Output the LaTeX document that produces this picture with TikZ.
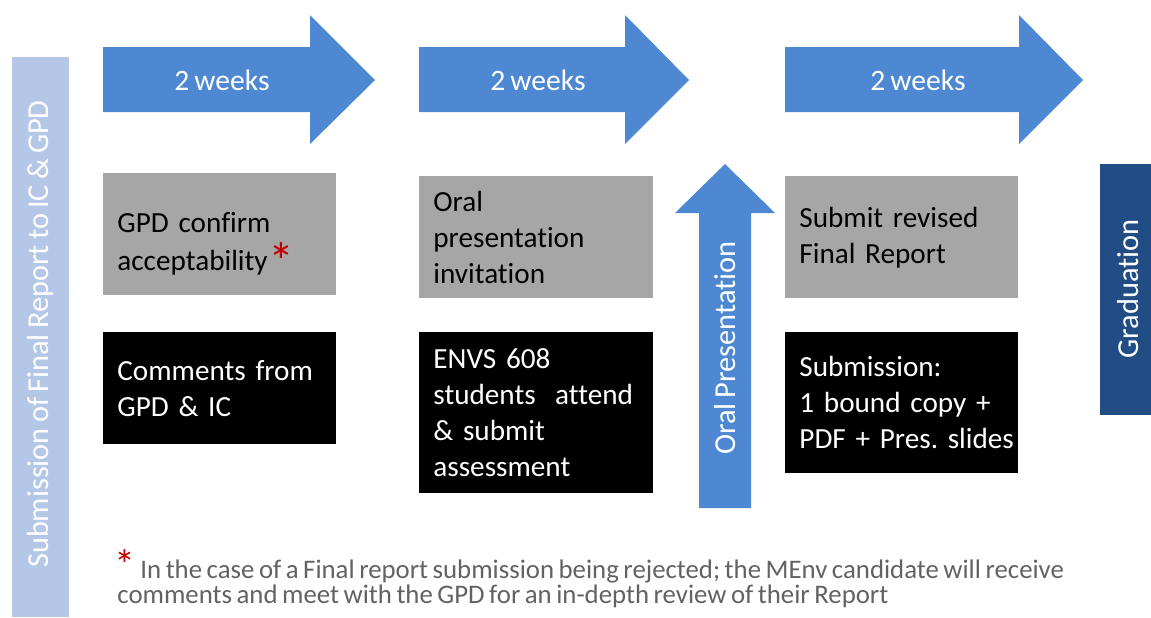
\documentclass[tikz,border=0pt]{standalone}
\usepackage{fontspec}
\setmainfont{Carlito}[Ligatures=NoCommon,WordSpace=0.75]
\usepackage{tikz}
\usetikzlibrary{calc}

\definecolor{arrowblue}{HTML}{4E88D2}
\definecolor{barblue}{HTML}{B4C7E7}
\definecolor{gradblue}{HTML}{214D84}
\definecolor{boxgrey}{HTML}{A6A6A6}
\definecolor{notegrey}{HTML}{626262}
\definecolor{starred}{HTML}{C00000}

\begin{document}
\begin{tikzpicture}[x=0.5pt,y=-0.5pt,font=\fontsize{14.6}{18}\selectfont]
    \tikzstyle{grey box}=[fill=boxgrey,anchor=north west,align=left,inner xsep=7pt,minimum height=61pt,text=black]
    \tikzstyle{black box}=[fill=black,anchor=north west,align=left,inner xsep=7pt,text=white]
    \tikzstyle{week label}=[text=white,font=\fontsize{14.8}{18}\selectfont]
    \tikzstyle{side text}=[rotate=90,text=white,font=\fontsize{15.2}{18}\selectfont]

    \useasboundingbox (0,0) rectangle (1151,617);

    % side bars
    \fill[barblue] (12,57) rectangle (69,617);
    \node[side text] (submitted) at (40,334) {Submission of Final Report to IC \& GPD};
    \fill[gradblue] (1100,164) rectangle (1151,415);
    \node[side text] (graduation) at (1128,289) {Graduation};

    % two week arrows
    \fill[arrowblue] (103,47) -- (310,47) -- (310,15) -- (375,80) -- (310,144) -- (310,112) -- (103,112) -- cycle;
    \node[week label] (weekA) at (222,80) {2 weeks};
    \fill[arrowblue] (419,47) -- (625,47) -- (625,15) -- (689,80) -- (625,144) -- (625,112) -- (419,112) -- cycle;
    \node[week label] (weekB) at (538,80) {2 weeks};
    \fill[arrowblue] (785,47) -- (1019,47) -- (1019,15) -- (1083,80) -- (1019,144) -- (1019,112) -- (785,112) -- cycle;
    \node[week label] (weekC) at (918,80) {2 weeks};

    % oral presentation arrow
    \fill[arrowblue] (699,508) -- (699,213) -- (675,213) -- (725,164) -- (775,213) -- (751,213) -- (751,508) -- cycle;
    \node[side text] (oral) at (725,348) {Oral Presentation};

    % grey boxes
    \node[grey box,text width=102.5pt] (gpd) at (103,173)
        {\rule{0pt}{19pt}GPD confirm\\[1pt]acceptability\kern0.5pt\smash{\raisebox{-4.5pt}{\color{starred}\fontsize{26}{18}\selectfont*}}};
    \node[grey box,text width=103pt] (invite) at (419,176)
        {Oral\\presentation\\invitation};
    \node[grey box,text width=102.5pt] (revise) at (785,176)
        {Submit revised\\Final Report};

    % black boxes
    \node[black box,text width=102.5pt,minimum height=56pt] (comments) at (103,332)
        {Comments from\\GPD \& IC};
    \node[black box,text width=103pt,minimum height=80.5pt] (envs) at (419,332)
        {ENVS 608\\students~ attend\\\& submit\\assessment};
    \node[black box,text width=102.5pt,minimum height=70.5pt] (final) at (785,332)
        {Submission:\\1 bound copy +\\\mbox{PDF + Pres.\ slides}};

    % footnote
    \node[inner sep=0pt,text=starred,font=\fontsize{21}{21}\selectfont] (noteStar) at (125,565) {*};
    \node[anchor=base west,align=left,inner sep=0pt,text=notegrey,
          font=\fontsize{13.4}{12.5}\selectfont] (note) at (117,603)
        {\hspace*{11.5pt}In the case of a Final report submission being rejected; the MEnv candidate will receive\\
         comments and meet with the GPD for an in-depth review of their Report};
\end{tikzpicture}
\end{document}
